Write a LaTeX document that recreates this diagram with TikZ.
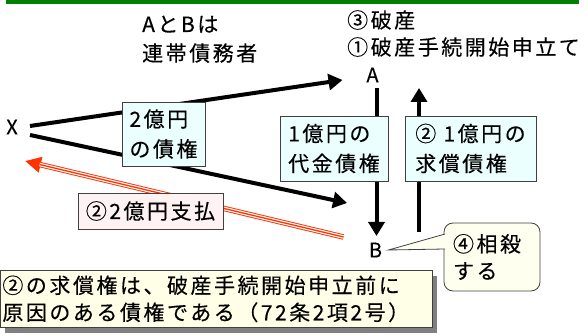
\documentclass[tikz,border=0pt]{standalone}
\usepackage{fontspec}
\setmainfont{Noto Sans CJK JP}[LetterSpace=12, FakeBold=0.3]
\newfontfamily\lat{Noto Sans CJK JP}[FakeBold=0.3]
\usetikzlibrary{arrows.meta,shadows}
\definecolor{grn}{RGB}{0,128,0}
\definecolor{cy}{RGB}{236,255,255}
\definecolor{pk}{RGB}{255,242,242}
\definecolor{yl}{RGB}{255,255,232}
\definecolor{iv}{RGB}{255,255,240}
\definecolor{redo}{RGB}{255,51,0}
\definecolor{bord}{RGB}{64,64,64}
\begin{document}
\begin{tikzpicture}[x=1pt,y=-1pt,
  every node/.style={inner sep=0pt},
  txt/.style={align=left},
  lab/.style={font=\lat\fontsize{20}{24}\selectfont},
  box/.style={draw=bord, line width=0.8pt, align=left, font=\fontsize{21}{30}\selectfont},
  arr/.style={line width=4pt, -{Triangle[length=14pt,width=16pt]}},
]
\useasboundingbox (0,0) rectangle (588,336);
\fill[grn] (6,0) rectangle (579,4);

\node[txt, font=\fontsize{21}{29}\selectfont, anchor=base west] (ab) at (142,61) {AとBは\\連帯債務者};
\node[txt, font=\fontsize{21}{27}\selectfont, anchor=base west] (ha) at (347,55) {③破産\\①破産手続開始申立て};

\node[lab] (X) at (12,127) {X};
\node[lab] (A) at (372.5,75) {A};
\node[lab] (B) at (375.5,250) {B};

% arrows
\draw[arr] ([shift={(18,-1)}]X.center) -- ([shift={(-30,5)}]A.center);
\draw[arr] ([shift={(18,8)}]X.center) -- ([shift={(-28.5,-47)}]B.center);
\draw[arr] ([shift={(4,13)}]A.center) -- ([shift={(1,-14)}]B.center);
\draw[arr] ([shift={(43.5,-18)}]B.center) -- ([shift={(46.5,13)}]A.center);

% red payment arrow
\draw[redo, line width=5.5pt, -{Triangle[length=16pt,width=15pt]}] ([shift={(-32,-13)}]B.center) -- ([shift={(13,34)}]X.center);
\draw[white, line width=3.6pt, shorten >=15pt] ([shift={(-32,-13)}]B.center) -- ([shift={(13,34)}]X.center);
\draw[redo, line width=1.3pt, shorten >=15pt] ([shift={(-32,-13)}]B.center) -- ([shift={(13,34)}]X.center);

% boxes
\node[box, fill=cy, minimum width=83pt, minimum height=64pt] (b2) at (163.5,134) {2億円\\の債権};
\node[box, fill=cy, minimum width=108pt, minimum height=65pt] (b1) at (334,148.5) {1億円の\\代金債権};
\node[box, fill=cy, minimum width=131pt, minimum height=65pt] (bq) at (470.5,148.5) {② 1億円の\\求償債権};
\node[box, fill=pk, minimum width=145pt, minimum height=36pt] (bp) at (150.5,211) {②2億円支払};

\node[box, fill=yl, text width=428pt, inner xsep=2pt, minimum height=57pt, anchor=north west,
  font=\fontsize{21}{27}\selectfont,
  drop shadow={shadow xshift=5pt, shadow yshift=-6pt, fill=black!50, opacity=1}] (note) at (0,270)
  {②の求償権は、破産手続開始申立前に\\原因のある債権である（72条2項2号）};

% callout
\node[box, fill=iv, rounded corners=9pt, text width=78pt, inner xsep=9pt, minimum height=68pt,
  font=\fontsize{21}{27}\selectfont] (cb) at (492,257) {④相殺\\する};
\fill[iv] ([shift={(13,0)}]B.center) -- ([shift={(1.5,-8)}]cb.west) -- ([shift={(1.5,-23)}]cb.west) -- cycle;
\draw[bord, line width=0.8pt] ([shift={(1.5,-8)}]cb.west) -- ([shift={(13,0)}]B.center) -- ([shift={(1.5,-23)}]cb.west);
\end{tikzpicture}
\end{document}
